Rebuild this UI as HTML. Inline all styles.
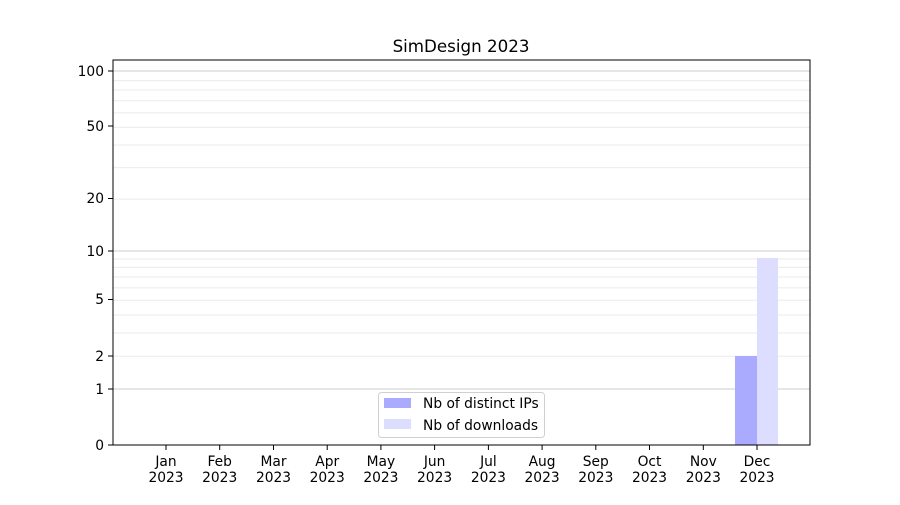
<!DOCTYPE html>
<html><head><meta charset="utf-8"><style>
body{margin:0;background:#fff}
svg text{font-family:"DejaVu Sans","Liberation Sans",sans-serif;font-size:13.8px;fill:#000}
</style></head><body>
<svg width="900" height="500" xmlns="http://www.w3.org/2000/svg">
<rect width="900" height="500" fill="#fff"/>
<g stroke="#ebebeb" stroke-width="1">
<line x1="113" x2="810" y1="356.3" y2="356.3"/>
<line x1="113" x2="810" y1="333" y2="333"/>
<line x1="113" x2="810" y1="315" y2="315"/>
<line x1="113" x2="810" y1="300.3" y2="300.3"/>
<line x1="113" x2="810" y1="287.9" y2="287.9"/>
<line x1="113" x2="810" y1="277" y2="277"/>
<line x1="113" x2="810" y1="267.4" y2="267.4"/>
<line x1="113" x2="810" y1="259" y2="259"/>
<line x1="113" x2="810" y1="199.1" y2="199.1"/>
<line x1="113" x2="810" y1="167.6" y2="167.6"/>
<line x1="113" x2="810" y1="145" y2="145"/>
<line x1="113" x2="810" y1="127.4" y2="127.4"/>
<line x1="113" x2="810" y1="112.9" y2="112.9"/>
<line x1="113" x2="810" y1="100.7" y2="100.7"/>
<line x1="113" x2="810" y1="90" y2="90"/>
<line x1="113" x2="810" y1="80.6" y2="80.6"/>
</g>
<g stroke="#cccccc" stroke-width="1">
<line x1="113" x2="810" y1="389" y2="389"/>
<line x1="113" x2="810" y1="251" y2="251"/>
<line x1="113" x2="810" y1="71" y2="71"/>
</g>
<rect x="735" y="356" width="22" height="89" fill="#aaaaff"/>
<rect x="757" y="258" width="21" height="187" fill="#ddddff"/>
<rect x="113" y="60" width="697" height="385" fill="none" stroke="#000" stroke-width="1"/>
<g stroke="#000">
<line x1="108" x2="113" y1="445" y2="445"/>
<line x1="108" x2="113" y1="389" y2="389"/>
<line x1="108" x2="113" y1="356" y2="356"/>
<line x1="108" x2="113" y1="299.5" y2="299.5"/>
<line x1="108" x2="113" y1="251" y2="251"/>
<line x1="108" x2="113" y1="198.5" y2="198.5"/>
<line x1="108" x2="113" y1="126" y2="126"/>
<line x1="108" x2="113" y1="71" y2="71"/>
</g>
<g text-anchor="end">
<text x="104" y="450">0</text>
<text x="104" y="394">1</text>
<text x="104" y="361">2</text>
<text x="104" y="304">5</text>
<text x="104" y="256">10</text>
<text x="104" y="203">20</text>
<text x="104" y="131">50</text>
<text x="104" y="76">100</text>
</g>
<g stroke="#000">
<line x1="166" x2="166" y1="445" y2="450"/><line x1="219.7" x2="219.7" y1="445" y2="450"/><line x1="273.5" x2="273.5" y1="445" y2="450"/><line x1="327.2" x2="327.2" y1="445" y2="450"/><line x1="380.9" x2="380.9" y1="445" y2="450"/><line x1="434.6" x2="434.6" y1="445" y2="450"/><line x1="488.4" x2="488.4" y1="445" y2="450"/><line x1="542.1" x2="542.1" y1="445" y2="450"/><line x1="595.8" x2="595.8" y1="445" y2="450"/><line x1="649.5" x2="649.5" y1="445" y2="450"/><line x1="703.3" x2="703.3" y1="445" y2="450"/><line x1="757" x2="757" y1="445" y2="450"/>
</g>
<g text-anchor="middle">
<text x="166" y="466">Jan</text><text x="166" y="482">2023</text>
<text x="219.7" y="466">Feb</text><text x="219.7" y="482">2023</text>
<text x="273.5" y="466">Mar</text><text x="273.5" y="482">2023</text>
<text x="327.2" y="466">Apr</text><text x="327.2" y="482">2023</text>
<text x="380.9" y="466">May</text><text x="380.9" y="482">2023</text>
<text x="434.6" y="466">Jun</text><text x="434.6" y="482">2023</text>
<text x="488.4" y="466">Jul</text><text x="488.4" y="482">2023</text>
<text x="542.1" y="466">Aug</text><text x="542.1" y="482">2023</text>
<text x="595.8" y="466">Sep</text><text x="595.8" y="482">2023</text>
<text x="649.5" y="466">Oct</text><text x="649.5" y="482">2023</text>
<text x="703.3" y="466">Nov</text><text x="703.3" y="482">2023</text>
<text x="757" y="466">Dec</text><text x="757" y="482">2023</text>
<text x="461" y="52" style="font-size:16.7px">SimDesign 2023</text>
</g>
<rect x="378.5" y="392.5" width="166" height="45" rx="3" fill="#fff" fill-opacity="0.8" stroke="#d0d0d0"/>
<rect x="384" y="398" width="27" height="10" fill="#aaaaff"/>
<rect x="384" y="419" width="27" height="10" fill="#ddddff"/>
<text x="423" y="408">Nb of distinct IPs</text>
<text x="423" y="430">Nb of downloads</text>
</svg>
</body></html>
